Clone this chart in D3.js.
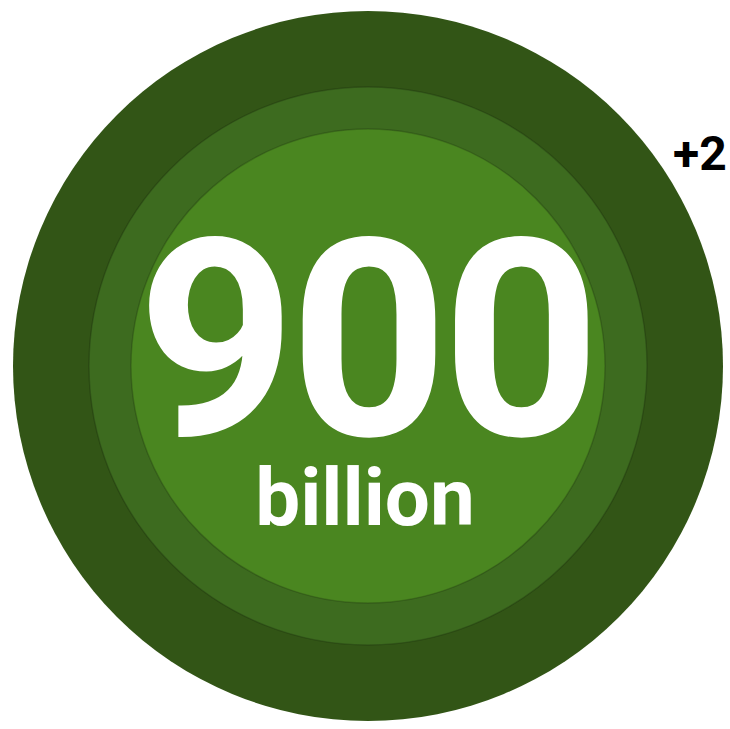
<!DOCTYPE html>
<html><head><meta charset="utf-8">
<script src="https://cdn.jsdelivr.net/npm/d3@7"></script>
<style>html,body{margin:0;padding:0;background:#fff;}svg{display:block;}</style>
</head><body>
<svg id="chart" width="730" height="729"></svg>
<script>
const rings = ["outer", "middle", "inner"];
const values = [2019, 1247, 900];
const colors = ["#325516", "#3d6b1f", "#4a8620"];
const mainLabel = "900";
const subLabel = "billion";
const badgeLabel = "+2";

const svg = d3.select("#chart");
const cx = 368, cy = 366;
const r = d3.scaleSqrt().domain([0, d3.max(values)]).range([0, 355]);

const data = rings.map((k, i) => ({key: k, value: values[i], color: colors[i]}));

svg.selectAll("circle.ring").data(data).join("circle")
  .attr("class", "ring")
  .attr("cx", cx).attr("cy", cy)
  .attr("r", d => r(d.value))
  .attr("fill", d => d.color)
  .attr("stroke", "rgba(0,0,0,0.18)")
  .attr("stroke-width", d => d.key === "outer" ? 0 : 1.5);

svg.append("text")
  .attr("x", cx - 2).attr("y", 435)
  .attr("text-anchor", "middle")
  .attr("font-family", "Roboto, sans-serif")
  .attr("font-weight", 700)
  .attr("font-size", 276)
  .attr("letter-spacing", -6)
  .attr("fill", "#fff")
  .text(mainLabel);

svg.append("text")
  .attr("x", cx - 3).attr("y", 525)
  .attr("text-anchor", "middle")
  .attr("font-family", "Roboto, sans-serif")
  .attr("font-weight", 700)
  .attr("font-size", 80)
  .attr("fill", "#fff")
  .text(subLabel);

svg.append("text")
  .attr("x", 673).attr("y", 170)
  .attr("font-family", "Roboto, sans-serif")
  .attr("font-weight", 700)
  .attr("font-size", 48)
  .attr("fill", "#000")
  .text(badgeLabel);
</script>
</body></html>
